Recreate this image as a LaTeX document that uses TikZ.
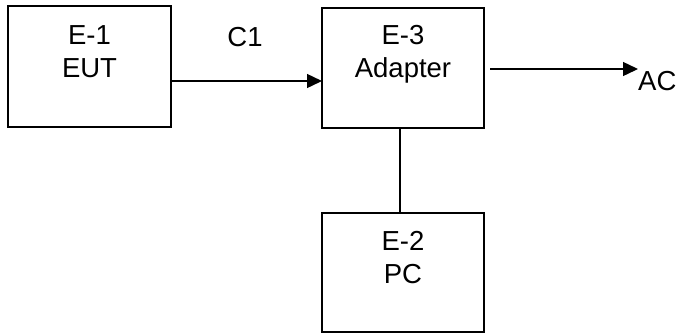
\documentclass[tikz,border=0pt]{standalone}
\usepackage{fontspec}
\setmainfont{Liberation Sans}
\usetikzlibrary{arrows.meta}
\begin{document}
\begin{tikzpicture}[x=1pt,y=-1pt,
  box/.style={draw,line width=1.4pt,inner sep=0pt,outer sep=0pt},
  lbl/.style={align=center,inner sep=0pt,font=\fontsize{27.5}{33}\selectfont},
  conn/.style={line width=1.4pt},
  arr/.style={conn,-{Triangle[length=15pt,width=14pt]}}]
\useasboundingbox (0,0) rectangle (678,333);
\node[box,minimum width=163pt,minimum height=121pt] (e1) at (89.5,66.5) {};
\node[box,minimum width=162pt,minimum height=120pt] (e3) at (403,68) {};
\node[box,minimum width=162pt,minimum height=119pt] (e2) at (403,272.5) {};
\node[lbl] (t1) at (89.5,51.5) {E-1\\EUT};
\node[lbl] (t3) at (403,54) {E-3\\Adapter};
\node[lbl] (t2) at (403,257.5) {E-2\\PC};
\node[lbl] (c1) at (245,37) {C1};
\node[lbl,anchor=west] (ac) at (638,81) {AC};
\draw[arr] (e1.east |- 0,81) -- (e3.west |- 0,81);
\coordinate (acs) at (490,69);
\coordinate (ace) at (638,69);
\draw[arr] (acs) -- (ace);
\draw[conn] (e3.south -| 400,0) -- (e2.north -| 400,0);
\end{tikzpicture}
\end{document}
